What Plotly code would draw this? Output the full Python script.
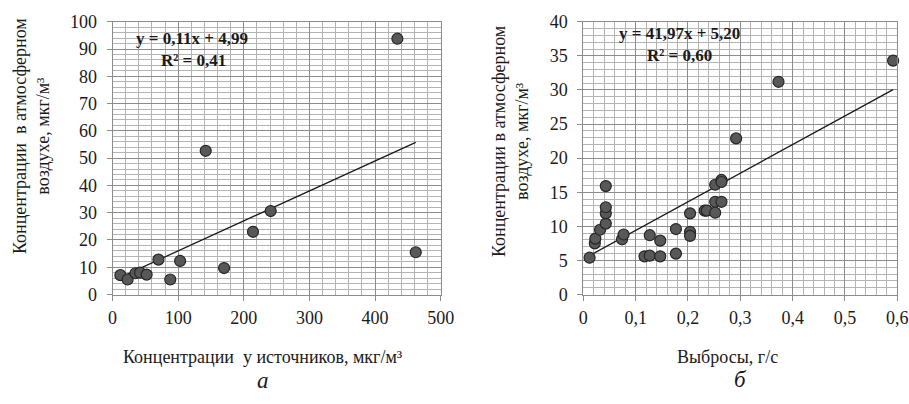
import plotly.graph_objects as go

# ---- Data (panel a) ----
src_conc = [12, 23, 35, 42, 52, 70, 88, 103, 142, 170, 214, 241, 434, 462]
air_conc_a = [7.1, 5.5, 7.8, 8.0, 7.3, 12.8, 5.5, 12.3, 52.7, 9.7, 23.0, 30.6, 93.8, 15.5]
slope_a, intercept_a = 0.11, 4.99
eq_a = "y = 0,11x + 4,99"
r2_a = "R² = 0,41"

# ---- Data (panel б) ----
emissions = [0.012, 0.022, 0.023, 0.032, 0.043, 0.043, 0.043, 0.043, 0.074, 0.077,
             0.117, 0.127, 0.127, 0.147, 0.147, 0.177, 0.177, 0.204, 0.204, 0.204,
             0.232, 0.236, 0.252, 0.252, 0.264, 0.252, 0.264, 0.264, 0.292, 0.373, 0.592]
air_conc_b = [5.4, 7.5, 8.2, 9.5, 10.4, 11.9, 12.8, 15.9, 8.1, 8.8,
              5.6, 5.7, 8.7, 7.9, 5.6, 9.6, 6.0, 11.9, 9.2, 8.6,
              12.3, 12.3, 12.0, 13.6, 13.6, 16.1, 16.8, 16.5, 22.9, 31.2, 34.3]
slope_b, intercept_b = 41.97, 5.20
eq_b = "y = 41,97x + 5,20"
r2_b = "R² = 0,60"

y_title = "Концентрации  в атмосферном<br>воздухе, мкг/м³"
y_title_b = "Концентрации в атмосферном<br>воздухе, мкг/м³"
x_title_a = "Концентрации  у источников, мкг/м³"
x_title_b = "Выбросы, г/с"

FONT = "Liberation Serif, Times New Roman, serif"
TXT = "#1a1a1a"
MAJ = "#8c8c8c"
MIN = "#b4b4b4"

fig = go.Figure()

marker = dict(size=11, color="#585858", line=dict(color="#262626", width=1.2))

xa = [min(src_conc), max(src_conc)]
fig.add_trace(go.Scatter(x=xa, y=[slope_a * v + intercept_a for v in xa], mode="lines",
                         line=dict(color="#1a1a1a", width=1.3), xaxis="x", yaxis="y",
                         showlegend=False, hoverinfo="skip"))
fig.add_trace(go.Scatter(x=src_conc, y=air_conc_a, mode="markers", marker=marker,
                         xaxis="x", yaxis="y", showlegend=False, cliponaxis=False))

xb = [min(emissions), max(emissions)]
fig.add_trace(go.Scatter(x=xb, y=[slope_b * v + intercept_b for v in xb], mode="lines",
                         line=dict(color="#1a1a1a", width=1.3), xaxis="x2", yaxis="y2",
                         showlegend=False, hoverinfo="skip"))
fig.add_trace(go.Scatter(x=emissions, y=air_conc_b, mode="markers", marker=marker,
                         xaxis="x2", yaxis="y2", showlegend=False, cliponaxis=False))

common = dict(showgrid=True, gridcolor=MAJ, gridwidth=1, zeroline=False,
              showline=True, linecolor=MAJ, linewidth=1, mirror=True,
              ticks="outside", ticklen=5, tickcolor=MAJ, automargin=False,
              tickfont=dict(family=FONT, size=18, color=TXT))

ydom = [1 - 294.5 / 404, 1 - 21.8 / 404]

fig.update_layout(
    width=909, height=404, autosize=False,
    margin=dict(l=0, r=0, t=0, b=0, pad=0, autoexpand=False),
    paper_bgcolor="white", plot_bgcolor="white",
    separators=", ",
    font=dict(family=FONT, color=TXT),
    xaxis=dict(domain=[112.5 / 909, 440.7 / 909], range=[0, 500], dtick=100,
               minor=dict(dtick=20, showgrid=True, gridcolor=MIN, gridwidth=1, ticks=""),
               anchor="y", ticklabelstandoff=2, **common),
    yaxis=dict(domain=ydom, range=[0, 100], dtick=10,
               minor=dict(dtick=2, showgrid=True, gridcolor=MIN, gridwidth=1, ticks=""),
               anchor="x", ticklabelstandoff=6, **common),
    xaxis2=dict(domain=[583.3 / 909, 897.3 / 909], range=[0, 0.6], dtick=0.1,
                minor=dict(dtick=0.02, showgrid=True, gridcolor=MIN, gridwidth=1, ticks=""),
                anchor="y2", ticklabelstandoff=2, **common),
    yaxis2=dict(domain=ydom, range=[0, 40], dtick=5,
                minor=dict(dtick=1, showgrid=True, gridcolor=MIN, gridwidth=1, ticks=""),
                anchor="x2", ticklabelstandoff=6, **common),
)

ann = []
def A(text, x, y, size, angle=0, bold=False, italic=False):
    t = text
    if bold:
        t = "<b>" + t + "</b>"
    if italic:
        t = "<i>" + t + "</i>"
    ann.append(dict(text=t, x=x / 909, y=1 - y / 404, xref="paper", yref="paper",
                    showarrow=False, textangle=angle, xanchor="center", yanchor="middle",
                    font=dict(family=FONT, size=size, color=TXT)))

A(y_title, 31, 136, 18, angle=-90)
A(y_title_b, 510, 142, 18, angle=-90)
A(x_title_a, 263, 357, 18)
A(x_title_b, 727, 357, 18)
A("а", 263, 380, 23, italic=True)
A("б", 740, 379, 23, italic=True)
A(eq_a, 192, 39, 17, bold=True)
A(r2_a, 193, 60, 17, bold=True)
A(eq_b, 679, 34, 17, bold=True)
A(r2_b, 679, 55, 17, bold=True)

fig.update_layout(annotations=ann)
fig.write_html("out.html", config={"responsive": False},
               post_script="document.body.style.margin='0';document.body.style.overflow='hidden';")
